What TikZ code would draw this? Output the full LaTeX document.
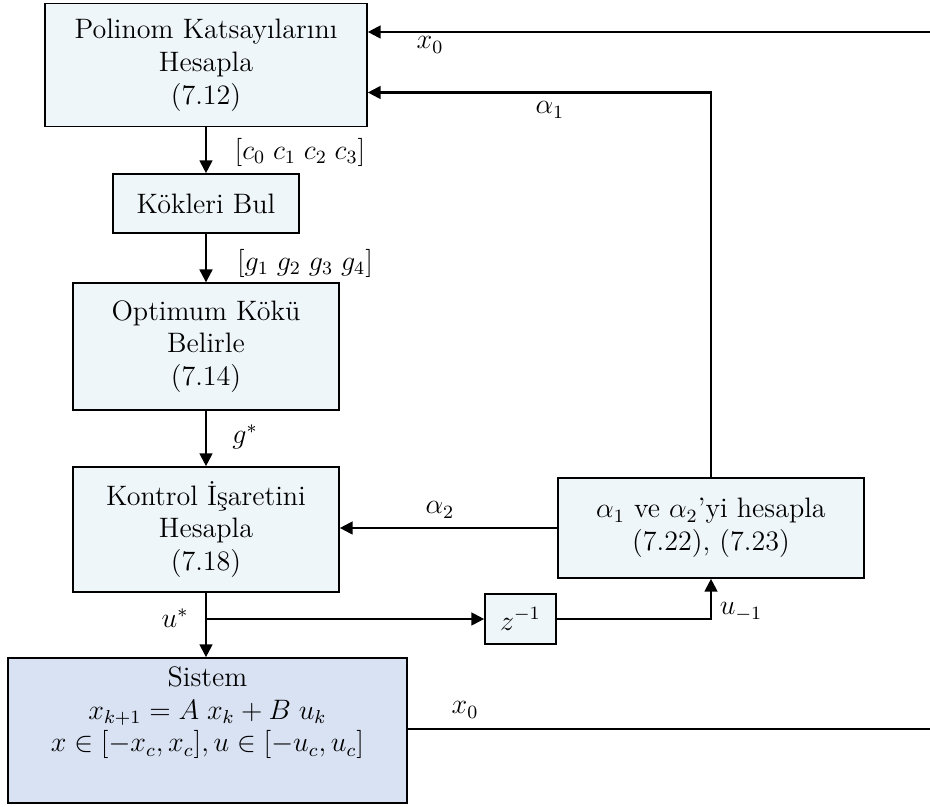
\documentclass[tikz,border=0pt]{standalone}
\usepackage{fontspec}
\usetikzlibrary{calc,positioning,arrows.meta}

\definecolor{boxfill}{RGB}{239,246,249}
\definecolor{sysfill}{RGB}{217,226,243}

\begin{document}
\begin{tikzpicture}[x=0.15cm,y=0.15cm,font=\large, line join=miter]

% ---------- styles ----------
\tikzset{
  blk/.style={draw, line width=0.7pt, fill=boxfill, align=center, inner sep=2pt},
  sysblk/.style={blk, fill=sysfill},
  arr/.style={-{Triangle[length=5.5pt,width=5.5pt]}, line width=0.9pt},
  wire/.style={line width=0.9pt},
  thinwire/.style={line width=0.5pt},
  lbl/.style={inner sep=1pt},
}

% ---------- canvas ----------
\useasboundingbox (0,0) rectangle (93,80.7);

% free ends at the right border
\coordinate (x0in)  at (93,77.5);
\coordinate (x0out) at (93,7.8);

% ---------- blocks ----------
\node[blk, minimum width=4.83cm, minimum height=1.85cm] (poly) at (20.6,74.2)
  {Polinom Katsayılarını\\Hesapla\\(7.12)};

\node[blk, minimum width=2.79cm, minimum height=0.885cm] (kok) at (20.6,60.35)
  {Kökleri Bul};

\node[blk, minimum width=3.99cm, minimum height=1.9cm] (opt) at (20.6,46.05)
  {Optimum Kökü\\Belirle\\(7.14)};

\node[blk, minimum width=3.99cm, minimum height=1.875cm] (kontrol) at (20.6,27.75)
  {Kontrol İşaretini\\Hesapla\\(7.18)};

\node[blk, minimum width=4.59cm, minimum height=1.5cm] (alpha) at (71.1,27.9)
  {$\alpha_1$ ve $\alpha_2$’yi hesapla\\(7.22), (7.23)};

\node[blk, minimum width=1.065cm, minimum height=0.75cm] (delay) at (52.05,18.8)
  {$z^{-1}$};

\node[sysblk, minimum width=5.985cm, minimum height=2.175cm] (sistem) at (20.75,7.65)
  {Sistem\\$x_{k+1}=A\;x_k+B\;u_k$\\$x\in[-x_c,x_c], u\in[-u_c,u_c]$\\\strut};

% ---------- connectors ----------
\draw[arr] (x0in) -- (x0in -| poly.east);
\draw[arr] (alpha.north) |- ($(poly.east)+(0,-2.75)$);
\draw[arr] (poly.south) -- (kok.north);
\draw[arr] (kok.south) -- (opt.north);
\draw[arr] (opt.south) -- (kontrol.north);
\draw[arr] (alpha.west) -- (alpha.west -| kontrol.east);
\draw[arr] (kontrol.south) -- (kontrol.south |- sistem.north);
\coordinate (branch) at (kontrol.south |- delay.west);
\draw[arr] (branch) -- (delay.west);
\draw[arr] (delay.east) -| (alpha.south);
\draw[thinwire] (sistem.east |- x0out) -- (x0out);

% ---------- labels ----------
\node[lbl] (lx0top) at (43,76.2) {$x_0$};
\node[lbl] (la1)    at (55,69.7) {$\alpha_1$};
\node[lbl] (lc)     at (30,65.5) {$[c_0\;c_1\;c_2\;c_3]$};
\node[lbl] (lg)     at (30.5,54.4) {$[g_1\;g_2\;g_3\;g_4]$};
\node[lbl] (lgs)    at (24.5,37.0) {$g^*$};
\node[lbl] (la2)    at (44,29.7) {$\alpha_2$};
\node[lbl] (lus)    at (17.5,18.9) {$u^*$};
\node[lbl] (lum)    at (74.1,19.5) {$u_{-1}$};
\node[lbl] (lx0bot) at (46.5,9.7) {$x_0$};

\end{tikzpicture}
\end{document}
